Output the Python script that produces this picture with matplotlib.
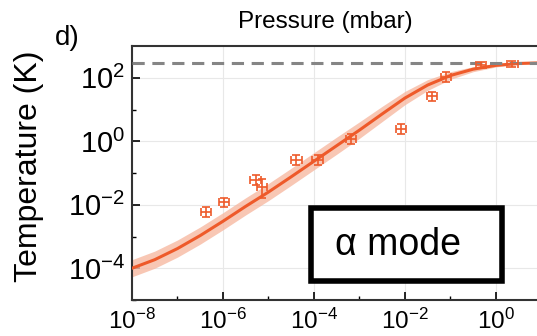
import numpy as np
import matplotlib
matplotlib.use('Agg')
import matplotlib.pyplot as plt
from matplotlib.ticker import FixedLocator, NullFormatter
from matplotlib.patches import Rectangle

plt.rcParams['font.family'] = ['Liberation Sans', 'DejaVu Sans']

# measured points (pressure in mbar, temperature in K)
p_meas = [4.3e-7, 1.05e-6, 5.2e-6, 7.2e-6, 4.1e-5, 1.2e-4, 6.6e-4, 8.1e-3, 3.9e-2, 8.1e-2, 0.47, 2.3]
T_meas = [6.0e-3, 1.2e-2, 6.2e-2, 3.5e-2, 0.26, 0.26, 1.2, 2.45, 26.0, 105.0, 245.0, 263.0]
p_err = [0.3] * 12
T_err_lo = [0.3, 0.3, 0.3, 0.55, 0.3, 0.3, 0.3, 0.3, 0.3, 0.3, 0.2, 0.2]
T_err_hi = [0.4, 0.4, 0.4, 0.8, 0.4, 0.4, 0.4, 0.4, 0.4, 0.4, 0.25, 0.25]

# fitted curve (log10 values)
fit_logp = [-8.0, -7.5, -7.0, -6.5, -6.0, -5.5, -5.0, -4.5, -4.0, -3.5, -3.0,
            -2.5, -2.0, -1.5, -1.0, -0.5, 0.0, 0.5, 1.0, 1.5]
fit_logT = [-4.0, -3.73, -3.38, -2.97, -2.52, -2.05, -1.6, -1.12, -0.63, -0.14, 0.35,
            0.86, 1.36, 1.77, 2.07, 2.27, 2.39, 2.45, 2.47, 2.477]
band_dec = [0.27, 0.27, 0.27, 0.27, 0.27, 0.27, 0.27, 0.27, 0.27, 0.27, 0.26,
            0.24, 0.21, 0.17, 0.12, 0.08, 0.05, 0.03, 0.02, 0.02]

T_room = 300

orange = '#ee5a2a'

fig = plt.figure(figsize=(5.37, 3.36), dpi=100)
ax = fig.add_axes([132 / 537, 36 / 336, 423 / 537, 254 / 336])

fp = 10 ** np.array(fit_logp)
ft = 10 ** np.array(fit_logT)
bd = 10 ** np.array(band_dec)
ax.fill_between(fp, ft / bd, ft * bd, color='#f7b9a2', alpha=0.8, lw=0, zorder=2)
ax.plot(fp, ft, color=orange, lw=2.2, zorder=3)
ax.axhline(T_room, color='#858585', ls=(0, (4, 2.5)), lw=2.2, zorder=4)

pm = np.array(p_meas)
tm = np.array(T_meas)
xe = np.array(p_err)
ax.errorbar(pm, tm,
            xerr=[pm * xe / (1 + xe), pm * xe],
            yerr=[tm * np.array(T_err_lo), tm * np.array(T_err_hi)],
            fmt='none', ecolor=orange, elinewidth=1.2, capsize=3, capthick=1.2, zorder=5)

ax.set_xscale('log')
ax.set_yscale('log')
ax.set_xlim(1e-8, 10 ** 1.3)
ax.set_ylim(1e-5, 1e3)

ax.xaxis.set_major_locator(FixedLocator([1e-8, 1e-6, 1e-4, 1e-2, 1e0]))
ax.xaxis.set_minor_locator(FixedLocator([1e-7, 1e-5, 1e-3, 1e-1, 1e1]))
ax.yaxis.set_major_locator(FixedLocator([1e-4, 1e-2, 1e0, 1e2]))
ax.yaxis.set_minor_locator(FixedLocator([1e-5, 1e-3, 1e-1, 1e1]))
ax.xaxis.set_minor_formatter(NullFormatter())
ax.yaxis.set_minor_formatter(NullFormatter())

ax.tick_params(which='major', direction='in', length=6, width=1.2, pad=6)
ax.tick_params(axis='x', which='major', labelsize=17.5)
ax.tick_params(axis='y', which='major', labelsize=21, pad=5)
ax.tick_params(which='minor', direction='in', length=3, width=1)
ax.grid(True, which='major', color='#e8e8e8', lw=0.8)
ax.set_axisbelow(True)
for s in ['left', 'bottom', 'top']:
    ax.spines[s].set_linewidth(1.5)
    ax.spines[s].set_color('#333333')

fig.text(29 / 537, 1 - 166 / 336, 'Temperature (K)', rotation=90,
         ha='center', va='center', fontsize=23)
fig.text(325 / 537, 1 - 22 / 336, 'Pressure (mbar)', ha='center', va='center', fontsize=17.5)
fig.text(67 / 537, 1 - 38 / 336, 'd)', ha='center', va='center', fontsize=20)

box = Rectangle((311 / 537, 1 - 281 / 336), 191 / 537, 73 / 336, transform=fig.transFigure,
                facecolor='white', edgecolor='black', lw=4, zorder=10)
fig.patches.append(box)
fig.text(398 / 537, 1 - 245 / 336, 'α mode', ha='center', va='center', fontsize=27, zorder=11)

fig.savefig('out.png', dpi=100)
